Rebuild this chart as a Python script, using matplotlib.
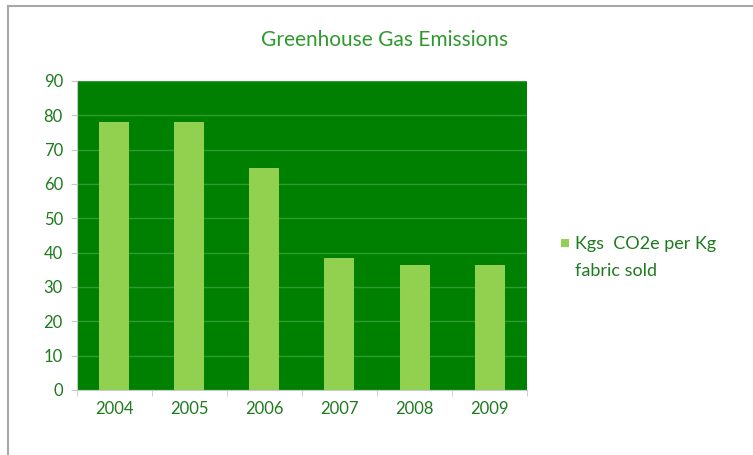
import matplotlib
matplotlib.use("Agg")
import matplotlib.pyplot as plt
from matplotlib.lines import Line2D
from matplotlib.patches import Rectangle

years = ["2004", "2005", "2006", "2007", "2008", "2009"]
values = [78, 78, 64.7, 38.4, 36.3, 36.5]
yticks = [0, 10, 20, 30, 40, 50, 60, 70, 80, 90]
title = "Greenhouse Gas Emissions"
series_name = "Kgs  CO2e per Kg\nfabric sold"

W, H = 753, 455
fig = plt.figure(figsize=(W / 100, H / 100), dpi=100)
fig.patch.set_facecolor("white")
fig.add_artist(Line2D([0.0106, 0.0106], [0.0, 0.987], transform=fig.transFigure,
                      color="#a8a8a8", linewidth=1.5))
fig.add_artist(Line2D([0.0106, 1.0], [0.987, 0.987], transform=fig.transFigure,
                      color="#a8a8a8", linewidth=1.5))

bar_color = "#92D050"
ax = fig.add_axes([0.102, 0.143, 0.598, 0.679])
ax.set_facecolor("#008000")
x = range(len(years))
ax.bar(x, values, width=0.4, color=bar_color, zorder=3, label=series_name)
ax.set_xlim(-0.5, len(years) - 0.5)
ax.set_ylim(0, 90)
ax.set_yticks(yticks)
ax.set_xticks(list(x))
ax.set_xticklabels(years)
ax.set_xticks([i - 0.5 for i in range(len(years) + 1)], minor=True)
ax.yaxis.grid(True, color="#2f9a2f", linewidth=1.0, zorder=1)
ax.set_axisbelow(True)
for s in ["top", "right"]:
    ax.spines[s].set_visible(False)
for s in ["left", "bottom"]:
    ax.spines[s].set_color("#c8c8c8")
ax.tick_params(axis="x", which="major", length=0, pad=8)
ax.tick_params(axis="x", which="minor", length=4, color="#c8c8c8")
ax.tick_params(axis="y", length=4, color="#c8c8c8", pad=6)
txtcol = "#1e7a1e"
for lab in ax.get_xticklabels() + ax.get_yticklabels():
    lab.set_color(txtcol)
    lab.set_fontsize(12)
    lab.set_family("Lato")

fig.text(0.511, 0.912, title, ha="center", va="center", fontsize=15,
         color="#2e9a2e", family="Lato")

# legend (marker aligned with first line, as in the reference)
fig.add_artist(Rectangle((561 / W, 1 - 247 / H), 8 / W, 8 / H,
                         transform=fig.transFigure, facecolor=bar_color,
                         edgecolor="none"))
fig.text(575 / W, 1 - 236 / H, series_name, ha="left", va="top",
         fontsize=13, color=txtcol, family="Lato", linespacing=1.85,
         transform=fig.transFigure)

fig.savefig("out.png", dpi=100)
